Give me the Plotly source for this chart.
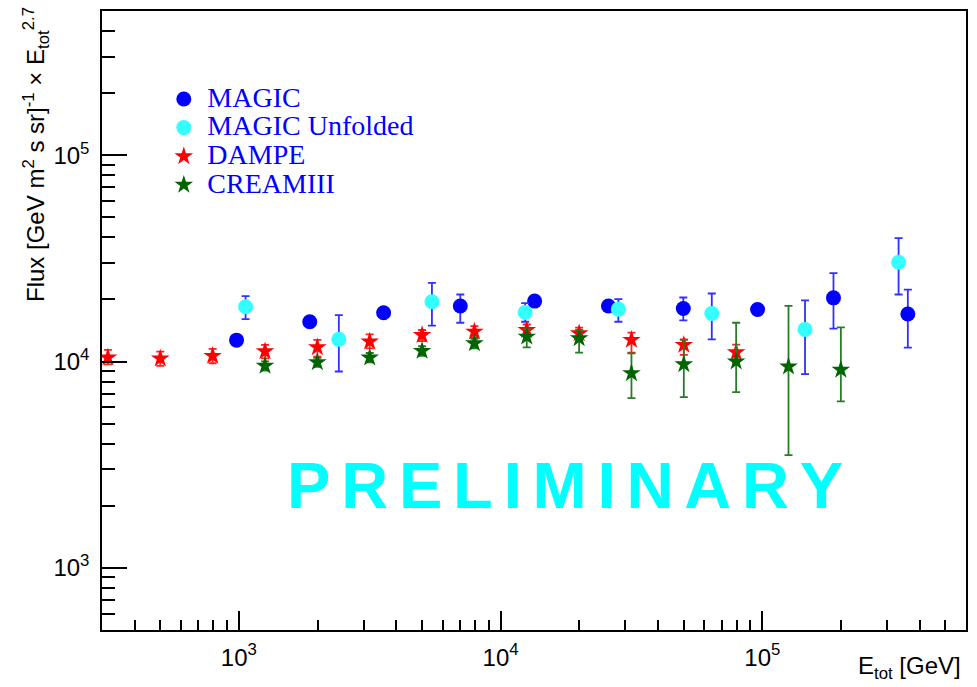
import numpy as np
import plotly.graph_objects as go

# ---- data: total energy [GeV] and flux x E^2.7 ----
magic_name = "MAGIC"
magic_e = [980, 1866, 3573, 7016, 13490, 25820, 49900, 95900, 187000, 359700]
magic_f = [12700, 15600, 17240, 18580, 19630, 18580, 18080, 17870, 20360, 17000]
magic_up = [500, 600, 650, 2550, 700, 800, 2360, 700, 6440, 5340]
magic_dn = [500, 600, 650, 3160, 700, 800, 2260, 700, 5930, 5320]

unf_name = "MAGIC Unfolded"
unf_e = [1061, 2410, 5466, 12410, 28180, 64100, 145600, 331600]
unf_f = [18420, 12810, 19480, 17300, 17950, 17110, 14320, 30280]
unf_up = [2340, 3990, 4560, 1900, 2130, 4260, 5460, 9350]
unf_dn = [2360, 3860, 4560, 1710, 2360, 4300, 5635, 9150]

dampe_name = "DAMPE"
dampe_e = [316, 501, 794, 1259, 1995, 3162, 5012, 7943, 12589, 19953, 31623, 50119, 79433]
dampe_f = [10450, 10340, 10650, 11200, 11720, 12490, 13450, 13960, 14220, 13700, 12730, 12040, 11090]
dampe_up = [930, 840, 870, 850, 1010, 1050, 770, 900, 900, 900, 1070, 780, 1000]
dampe_dn = [750, 810, 840, 850, 1150, 900, 900, 900, 900, 900, 1680, 1270, 1200]

cream_name = "CREAMIII"
cream_e = [1259, 1995, 3162, 5012, 7943, 12589, 19953, 31623, 50119, 79433, 125893, 199526]
cream_f = [9530, 9920, 10450, 11260, 12250, 13200, 12960, 8780, 9705, 10000, 9460, 9120]
cream_up = [500, 500, 550, 600, 650, 1100, 1260, 2180, 3025, 5420, 9160, 5520]
cream_dn = [500, 500, 550, 600, 650, 1480, 1910, 2127, 2975, 2890, 5944, 2710]

# axis ticks
major_vals = [1e3, 1e4, 1e5]
major_text = ["10<sup>3</sup>", "10<sup>4</sup>", "10<sup>5</sup>"]
x_range = [300, 6e5]
y_range = [500, 5e5]


def minor_ticks(lo, hi):
    vals = []
    for d in range(int(np.floor(np.log10(lo))), int(np.ceil(np.log10(hi))) + 1):
        for m in range(2, 10):
            v = m * 10.0 ** d
            if lo < v < hi:
                vals.append(v)
    return vals


def legend_label(s):
    return f'<span style="font-size:28px">{s}</span>'


fig = go.Figure()

series = [
    (magic_name, magic_e, magic_f, magic_up, magic_dn, "#0000ff", "circle", 15, "#3030ff"),
    (unf_name, unf_e, unf_f, unf_up, unf_dn, "#33ffff", "circle", 15, "#3030ff"),
    (dampe_name, dampe_e, dampe_f, dampe_up, dampe_dn, "#ff0000", "star", 14, "#ff2020"),
    (cream_name, cream_e, cream_f, cream_up, cream_dn, "#006400", "star", 14, "#2a7a2a"),
]

for name, e, f, up, dn, col, sym, size, ecol in series:
    fig.add_trace(go.Scatter(
        x=e, y=f, mode="markers", name=legend_label(name),
        marker=dict(symbol=sym, size=size, color=col, line=dict(width=0)),
        error_y=dict(type="data", symmetric=False, array=up, arrayminus=dn,
                     color=ecol, thickness=1.8, width=4),
    ))

axis_common = dict(
    type="log", showline=True, mirror=True, linecolor="black", linewidth=1.5,
    ticks="inside", tickcolor="black", tickwidth=1.5,
    showgrid=False, zeroline=False,
    tickmode="array", tickvals=major_vals, ticktext=major_text,
    tickfont=dict(family="Liberation Sans, Arial, sans-serif", size=24, color="black"),
)

fig.update_xaxes(
    **axis_common, range=[np.log10(x_range[0]), np.log10(x_range[1])], ticklen=19,
    ticklabelstandoff=5,
    minor=dict(tickmode="array", tickvals=minor_ticks(*x_range), ticks="inside",
               ticklen=10, tickwidth=1.5, tickcolor="black", showgrid=False),
)
fig.update_yaxes(
    **axis_common, range=[np.log10(y_range[0]), np.log10(y_range[1])], ticklen=25,
    ticklabelstandoff=6,
    minor=dict(tickmode="array", tickvals=minor_ticks(*y_range), ticks="inside",
               ticklen=13, tickwidth=1.5, tickcolor="black", showgrid=False),
)

title_font = dict(family="Liberation Sans, Arial, sans-serif", size=24, color="black")

# y-axis title, aligned to the top end of the axis
fig.add_annotation(
    text="Flux [GeV m<sup>2</sup> s sr]<sup>-1</sup> × E<sub>tot</sub><sup>2.7</sup>",
    xref="paper", yref="paper", x=-0.077, y=1.0, xanchor="center", yanchor="top",
    yshift=6, textangle=-90, showarrow=False, font=title_font,
)
# x-axis title, aligned to the right end of the axis
fig.add_annotation(
    text="E<sub>tot</sub> [GeV]", xref="paper", yref="paper", x=1.0, y=0.0,
    xanchor="right", yanchor="top", yshift=-20, xshift=-3, showarrow=False, font=title_font,
)
# watermark
fig.add_annotation(
    text="\u2006".join("PRELIMINARY"), xref="paper", yref="paper", x=0.536, y=0.233,
    xanchor="center", yanchor="middle", showarrow=False,
    font=dict(family="Liberation Sans, Arial, sans-serif", size=65, color="#00ffff", weight="bold"),
)

fig.update_layout(
    width=977, height=687,
    margin=dict(l=102, r=11, t=9, b=57),
    paper_bgcolor="white", plot_bgcolor="white",
    showlegend=True,
    legend=dict(
        x=0.0675, y=0.889, xanchor="left", yanchor="top",
        bgcolor="rgba(0,0,0,0)", borderwidth=0,
        font=dict(family="Liberation Serif, Times New Roman, serif", size=19.7, color="#0000ff"),
        itemsizing="trace", itemwidth=37,
    ),
)

fig.write_html("out.html")
